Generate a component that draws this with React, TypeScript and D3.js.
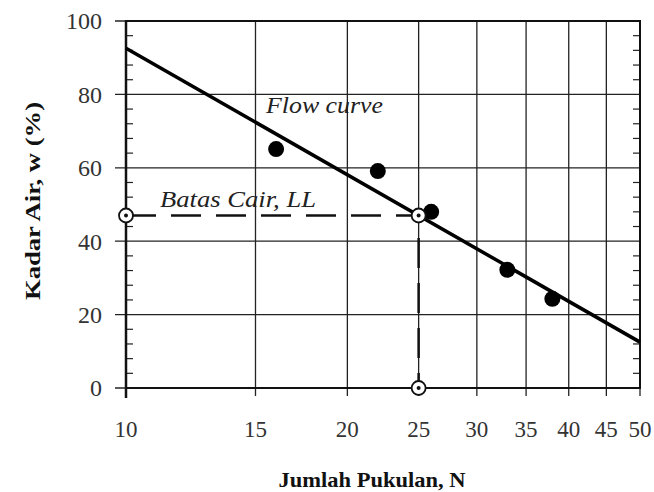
import * as React from 'react';
import * as d3 from 'd3';

// blow counts and water contents
const blowCounts = [16, 22, 26, 33, 38];
const waterContents = [65.1, 59.1, 48.0, 32.2, 24.3];

// flow curve end points (N, w)
const flowN = [10, 50];
const flowW = [92.6, 12.5];

// liquid limit
const llN = 25;
const llW = 47;

const xTicks = [10, 15, 20, 25, 30, 35, 40, 45, 50];
const yTicks = [0, 20, 40, 60, 80, 100];
const yMinor = d3.range(0, 101, 4).filter((v) => v % 20 !== 0);

const WIDTH = 654;
const HEIGHT = 492;
const MARGINS = { top: 21, left: 126, right: 14, bottom: 104 };

const serif = 'Liberation Serif, Times New Roman, Times, serif';

export default function App() {
    const innerW = WIDTH - MARGINS.left - MARGINS.right;
    const innerH = HEIGHT - MARGINS.top - MARGINS.bottom;

    const x = d3.scaleLog().domain([10, 50]).range([0, innerW]);
    const y = d3.scaleLinear().domain([0, 100]).range([innerH, 0]);

    const flowLine = d3.line<number>()
        .x((d, i) => x(flowN[i]))
        .y((d) => y(d));

    const llMarkers: [number, number][] = [[10, llW], [llN, llW], [llN, 0]];

    return (
        <svg width={WIDTH} height={HEIGHT}
            style={{ position: 'absolute', left: 0, top: 0, background: '#fff', fontFamily: serif }}>
            <g transform={`translate(${MARGINS.left},${MARGINS.top})`}>
                {/* grid */}
                {xTicks.map((t) => (
                    <line key={'gx' + t} x1={x(t)} x2={x(t)} y1={0} y2={innerH + 8}
                        stroke="#222" strokeWidth={1.3} />
                ))}
                {yTicks.map((t) => (
                    <line key={'gy' + t} x1={-11} x2={innerW} y1={y(t)} y2={y(t)}
                        stroke="#222" strokeWidth={1.3} />
                ))}
                {/* minor ticks */}
                {yMinor.map((t) => (
                    <g key={'m' + t}>
                        <line x1={0} x2={7} y1={y(t)} y2={y(t)} stroke="#222" strokeWidth={1.2} />
                        <line x1={innerW - 7} x2={innerW} y1={y(t)} y2={y(t)} stroke="#222" strokeWidth={1.2} />
                    </g>
                ))}
                {/* frame */}
                <rect x={0} y={0} width={innerW} height={innerH} fill="none" stroke="#111" strokeWidth={2} />
                <line x1={0} x2={0} y1={0} y2={innerH + 10} stroke="#111" strokeWidth={2.5} />

                {/* tick labels */}
                {yTicks.map((t) => (
                    <text key={'ly' + t} x={-24} y={y(t)} dy="0.35em" textAnchor="end"
                        fontSize={24} fill="#333">{t}</text>
                ))}
                {xTicks.map((t) => (
                    <text key={'lx' + t} x={x(t)} y={innerH + 49} textAnchor="middle"
                        fontSize={23} fill="#333">{t}</text>
                ))}

                {/* liquid limit construction */}
                <path d={`M${x(10)},${y(llW)}H${x(llN)}V${y(0)}`} fill="none"
                    stroke="#111" strokeWidth={2.5} strokeDasharray="30,15" />

                {/* flow curve */}
                <path d={flowLine(flowW) || ''} fill="none" stroke="#000" strokeWidth={3.5} />

                {/* data points */}
                {blowCounts.map((n, i) => (
                    <circle key={'p' + i} cx={x(n)} cy={y(waterContents[i])} r={8} fill="#000" />
                ))}

                {llMarkers.map(([n, w], i) => (
                    <g key={'ll' + i}>
                        <circle cx={x(n)} cy={y(w)} r={7} fill="#fff" stroke="#111" strokeWidth={1.8} />
                        <circle cx={x(n)} cy={y(w)} r={2} fill="#111" />
                    </g>
                ))}

                {/* annotations */}
                <text x={266 - MARGINS.left} y={113 - MARGINS.top} fontSize={24} fontStyle="italic"
                    fill="#222" textLength={117} lengthAdjust="spacingAndGlyphs">Flow curve</text>
                <text x={160 - MARGINS.left} y={207 - MARGINS.top} fontSize={24} fontStyle="italic"
                    fill="#222" textLength={156} lengthAdjust="spacingAndGlyphs">Batas Cair, LL</text>
            </g>

            {/* axis titles */}
            <text x={372} y={487} textAnchor="middle" fontSize={22} fontWeight="bold" fill="#111"
                textLength={187} lengthAdjust="spacingAndGlyphs">Jumlah Pukulan, N</text>
            <text transform={`translate(40,201) rotate(-90)`} textAnchor="middle" fontSize={22}
                fontWeight="bold" fill="#111" textLength={198} lengthAdjust="spacingAndGlyphs">Kadar Air, w (%)</text>
        </svg>
    );
}
